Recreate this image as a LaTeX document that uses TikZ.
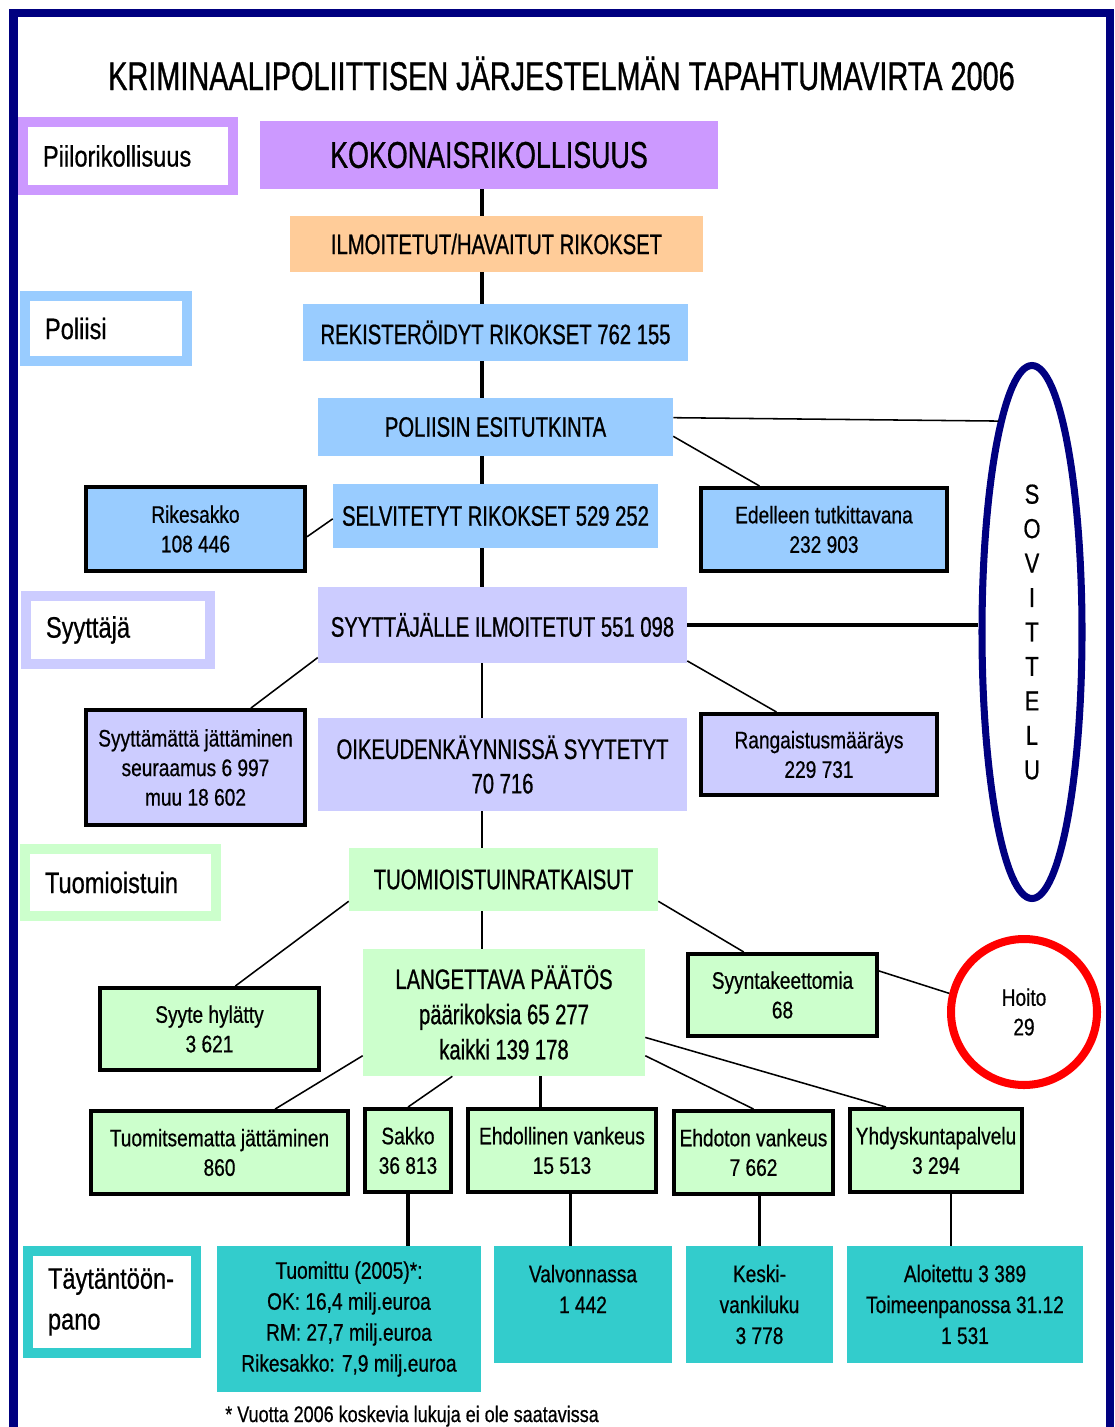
\documentclass[tikz,border=0pt]{standalone}
\usepackage{fontspec}
\setmainfont{Liberation Sans}[FakeStretch=0.8, FakeBold=0.6]
\newfontfamily\capsfont{Liberation Sans}[FakeStretch=0.72, FakeBold=0.8]
\usepackage{tikz}
\usetikzlibrary{shapes.geometric}

\definecolor{kokoviolet}{HTML}{CC99FF}
\definecolor{ilmoorange}{HTML}{FFCC99}
\definecolor{polblue}{HTML}{99CCFF}
\definecolor{syylilac}{HTML}{CCCCFF}
\definecolor{tuomgreen}{HTML}{CCFFCC}
\definecolor{taytteal}{HTML}{33CCCC}
\definecolor{framenavy}{HTML}{000080}

\begin{document}
\begin{tikzpicture}[x=0.025cm, y=-0.025cm,
  sz/.style 2 args={minimum width=#1*0.025cm, minimum height=#2*0.025cm},
  mainbox/.style={inner sep=0pt, align=center, font={\capsfont\fontsize{20}{24.5}\selectfont}},
  sidebox/.style={draw=black, line width=2.8pt, inner sep=0pt, align=center, font={\fontsize{17}{21}\selectfont}},
  tealbox/.style={fill=taytteal, inner sep=0pt, align=center, font={\fontsize{17}{22}\selectfont}},
  labelbox/.style={fill=white, line width=7pt, inner ysep=0pt, inner xsep=0.5cm, align=left,
    font={\hyphenpenalty=10000\fontsize{21}{27}\selectfont}},
  spineline/.style={line width=2.3pt},
  thinspine/.style={line width=1.4pt},
  link/.style={line width=1.1pt},
  frameline/.style={draw=framenavy, line width=6pt}]
\useasboundingbox (0,0) rectangle (1114,1427);
% outer frame, open at the bottom
\draw[frameline] (13.5,1440) -- (13.5,13) -- (1110,13) -- (1110,1440);
\node[inner sep=0pt, anchor=base, font={\capsfont\fontsize{28.5}{32}\selectfont}] (title) at (561.5,90)
  {KRIMINAALIPOLIITTISEN JÄRJESTELMÄN TAPAHTUMAVIRTA 2006};

% stage labels on the left
\node[labelbox, draw=kokoviolet, sz={210}{68}, text width=4.25cm] (piilo) at (128,156) {Piilorikollisuus};
\node[labelbox, draw=polblue, sz={162}{65}, text width=3.05cm] (poli) at (106,328.5) {Poliisi};
\node[labelbox, draw=syylilac, sz={184}{68}, text width=3.6cm] (syyl) at (118,630) {Syyttäjä};
\node[labelbox, draw=tuomgreen, sz={191}{67}, text width=3.775cm] (tuoml) at (120.5,882.5) {Tuomioistuin};
\node[labelbox, draw=taytteal, sz={168}{102}, text width=3.2cm, font={\hyphenpenalty=10000\fontsize{21}{29}\selectfont}] (tayt) at (112,1302) {Täytäntöön-\\pano};

% main flow
\node[mainbox, fill=kokoviolet, sz={458}{68}, font={\capsfont\fontsize{26.5}{30}\selectfont}] (koko) at (489,155) {KOKONAISRIKOLLISUUS};
\node[mainbox, fill=ilmoorange, sz={413}{56}] (ilmo) at (496.5,244) {ILMOITETUT/HAVAITUT RIKOKSET};
\node[mainbox, fill=polblue, sz={385}{57}] (rek) at (495.5,332.5) {REKISTERÖIDYT RIKOKSET 762 155};
\node[mainbox, fill=polblue, sz={355}{58}] (pol) at (495.5,427) {POLIISIN ESITUTKINTA};
\node[mainbox, fill=polblue, sz={325}{64}] (selv) at (495.5,516) {SELVITETYT RIKOKSET 529 252};
\node[mainbox, fill=syylilac, sz={369}{76}] (syyt) at (502.5,625) {SYYTTÄJÄLLE ILMOITETUT 551 098};
\node[mainbox, fill=syylilac, sz={369}{93}] (oik) at (502.5,764.5) {OIKEUDENKÄYNNISSÄ SYYTETYT\\70 716};
\node[mainbox, fill=tuomgreen, sz={309}{63}] (tuom) at (503.5,879.5) {TUOMIOISTUINRATKAISUT};
\node[mainbox, fill=tuomgreen, sz={282}{127}, font={\capsfont\fontsize{20}{25}\selectfont}] (lang) at (504,1012.5)
  {LANGETTAVA PÄÄTÖS\\päärikoksia 65 277\\kaikki 139 178};

% side outcomes
\node[sidebox, fill=polblue, sz={219}{84}] (rike) at (195.5,529) {Rikesakko\\108 446};
\node[sidebox, fill=polblue, sz={246}{83}] (edel) at (824,529.5) {Edelleen tutkittavana\\232 903};
\node[sidebox, fill=syylilac, sz={219}{115}] (syyttam) at (195.5,767.5) {Syyttämättä jättäminen\\seuraamus 6 997\\muu 18 602};
\node[sidebox, fill=syylilac, sz={236}{81}] (rang) at (819,754.5) {Rangaistusmääräys\\229 731};
\node[sidebox, fill=tuomgreen, sz={219}{82}] (syyteh) at (209.5,1029) {Syyte hylätty\\3 621};
\node[sidebox, fill=tuomgreen, sz={189}{82}] (syyn) at (782.5,995) {Syyntakeettomia\\68};
\node[sidebox, fill=tuomgreen, sz={257}{83}] (tuomits) at (219.5,1152.5) {Tuomitsematta jättäminen\\860};
\node[sidebox, fill=tuomgreen, sz={86}{83}] (sakko) at (408,1150.5) {Sakko\\36 813};
\node[sidebox, fill=tuomgreen, sz={188}{83}] (ehdol) at (562,1150.5) {Ehdollinen vankeus\\15 513};
\node[sidebox, fill=tuomgreen, sz={159}{83}] (ehdot) at (753.5,1152.5) {Ehdoton vankeus\\7 662};
\node[sidebox, fill=tuomgreen, sz={172}{83}] (yhd) at (936,1150.5) {Yhdyskuntapalvelu\\3 294};

% enforcement
\node[tealbox, sz={264}{146}] (tuomittu) at (349,1319) {Tuomittu (2005)*:\\OK: 16,4 milj.euroa\\RM: 27,7 milj.euroa\\Rikesakko: 7,9 milj.euroa};
\node[tealbox, sz={178}{117}] (valv) at (583,1304.5) {Valvonnassa\\1 442\\\mbox{}};
\node[tealbox, sz={147}{117}] (keski) at (759.5,1304.5) {Keski-\\vankiluku\\3 778};
\node[tealbox, sz={236}{117}] (aloit) at (965,1304.5) {Aloitettu 3 389\\Toimeenpanossa 31.12\\1 531};

% mediation and treatment
\node[ellipse, draw=framenavy, line width=5pt, sz={100}{533}, inner sep=0pt, align=center,
  font={\fontsize{19.5}{24.5}\selectfont}] (sovittelu) at (1032,632) {S\\O\\V\\I\\T\\T\\E\\L\\U};
\node[circle, draw=red, line width=5.7pt, minimum size=146*0.025cm, inner sep=0pt, align=center,
  font={\fontsize{17}{21}\selectfont}] (hoito) at (1024,1012) {Hoito\\29};

\node[anchor=base west, inner sep=0pt, font={\fontsize{16}{19}\selectfont}] (note) at (225,1422)
  {* Vuotta 2006 koskevia lukuja ei ole saatavissa};

% spine
\coordinate (spine) at (482,0);
\foreach \a/\b in {koko/ilmo, ilmo/rek, rek/pol, pol/selv, selv/syyt}
  \draw[spineline] (\a.south -| spine) -- (\b.north -| spine);
\foreach \a/\b in {syyt/oik, oik/tuom, tuom/lang}
  \draw[thinspine] (\a.south -| spine) -- (\b.north -| spine);

% branches
\draw[link] (pol.3.5) -- (sovittelu.99.6);
\draw[link] (pol.-3.5) -- (edel.146);
\draw[link] (selv.181) -- (rike.-4);
\draw[spineline] (syyt.east) -- (syyt.east -| sovittelu.west);
\draw[link] (syyt.190) -- (syyttam.47.5);
\draw[link] (syyt.-11) -- (rang.135);
\draw[link] (tuom.188) -- (syyteh.59);
\draw[link] (tuom.-8) -- (syyn.132);
\draw[link] (syyn.14) -- (hoito.166);
\draw[link] (lang.197) -- (tuomits.38);
\draw[link] (lang.231) -- (sakko.north);
\draw[spineline] (lang.-60.4) -- (lang.-60.4 |- ehdol.north);
\draw[link] (lang.-17.5) -- (ehdot.north);
\draw[link] (lang.-10.6) -- (yhd.139.5);
\draw[spineline] (sakko.south) -- (sakko.south |- tuomittu.north);
\draw[spineline] (ehdol.-79.6) -- (ehdol.-79.6 |- valv.north);
\draw[spineline] (keski.north |- ehdot.south) -- (keski.north);
\draw[link] (yhd.-71) -- (yhd.-71 |- aloit.north);
\end{tikzpicture}
\end{document}
